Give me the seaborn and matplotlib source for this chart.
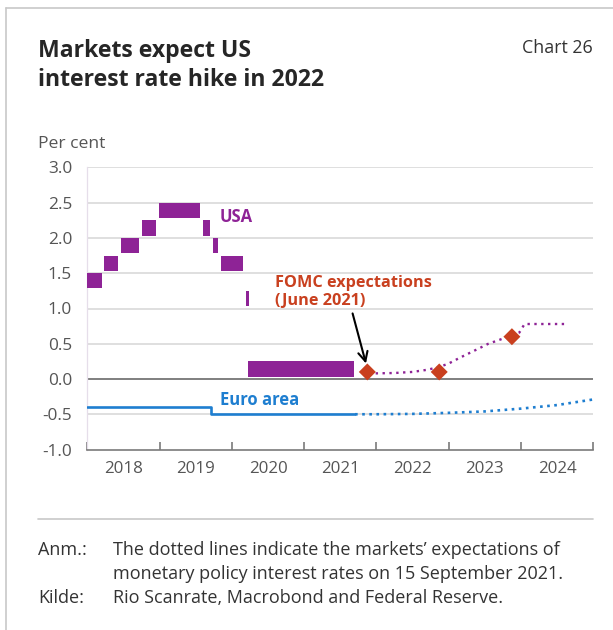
import matplotlib
matplotlib.use("Agg")
import matplotlib.pyplot as plt
from matplotlib.lines import Line2D
import seaborn as sns
import pandas as pd
import numpy as np

# ---------------------------------------------------------------- data
# Federal funds target range: start date of each range, lower / upper bound (per cent)
usa_range_start = ["2017-12-14", "2018-03-22", "2018-06-14", "2018-09-27", "2018-12-20",
                   "2019-08-01", "2019-09-19", "2019-10-31", "2020-03-04", "2020-03-16"]
usa_range_last = "2021-09-15"
usa_lower = [1.25, 1.50, 1.75, 2.00, 2.25, 2.00, 1.75, 1.50, 1.00, 0.00]
usa_upper = [1.50, 1.75, 2.00, 2.25, 2.50, 2.25, 2.00, 1.75, 1.25, 0.25]

# Market-implied US policy rate path (15 September 2021)
usa_exp_dates = ["2021-10-20", "2022-01-01", "2022-04-01", "2022-07-01", "2022-09-13",
                 "2022-11-14", "2023-01-01", "2023-02-25", "2023-06-07", "2023-07-20",
                 "2023-09-09", "2023-12-24", "2024-01-08", "2024-01-19", "2024-08-25"]
usa_exp = [0.08, 0.08, 0.085, 0.10, 0.13, 0.17, 0.22, 0.30, 0.44, 0.50,
           0.55, 0.66, 0.73, 0.78, 0.78]

# FOMC median projections, June 2021
fomc_dates = ["2021-11-16", "2022-11-14", "2023-11-16"]
fomc_rate = [0.1, 0.1, 0.6]

# ECB deposit rate
euro_dates = ["2018-01-01", "2019-09-18", "2021-09-15"]
euro_rate = [-0.40, -0.50, -0.50]

# Market-implied euro area policy rate path
euro_exp_dates = ["2021-09-15", "2022-01-01", "2022-07-01", "2023-01-01", "2023-07-01",
                  "2024-01-01", "2024-07-01", "2025-01-01"]
euro_exp = [-0.50, -0.50, -0.495, -0.48, -0.46, -0.42, -0.37, -0.29]

years = [2018, 2019, 2020, 2021, 2022, 2023, 2024]
y_ticks = [-1.0, -0.5, 0.0, 0.5, 1.0, 1.5, 2.0, 2.5, 3.0]

title_lines = ["Markets expect US", "interest rate hike in 2022"]
chart_no = "Chart 26"
unit_label = "Per cent"
note_label = "Anm.:"
note_lines = ["The dotted lines indicate the markets\u2019 expectations of",
              "monetary policy interest rates on 15 September 2021."]
source_label = "Kilde:"
source_text = "Rio Scanrate, Macrobond and Federal Reserve."


def to_year(dates):
    ts = pd.to_datetime(pd.Series(dates))
    days = np.where(ts.dt.is_leap_year, 366.0, 365.0)
    return (ts.dt.year + (ts.dt.dayofyear - 1) / days).to_numpy()


# ---------------------------------------------------------------- style
PURPLE = "#8E2396"
RED = "#C9401F"
BLUE = "#1E7ED0"
TEXT = "#333333"
TICK = "#555555"

sns.set_theme(style="white")
plt.rcParams["font.family"] = ["Open Sans", "DejaVu Sans"]
plt.rcParams["axes.unicode_minus"] = False

W, H = 613, 630
fig = plt.figure(figsize=(W / 100, H / 100), dpi=100)


def fx(x):
    return x / W


def fy(y):
    return 1 - y / H


ax = fig.add_axes([fx(87.3), fy(449.5), fx(593.3) - fx(87.3), fy(167.5) - fy(449.5)])
ax.set_xlim(2018.0, 2025.0)
ax.set_ylim(-1.0, 3.0)

# horizontal grid and zero line
for v in y_ticks[1:]:
    ax.axhline(v, color="#D6D6D6", lw=1.1, zorder=0)
ax.axhline(0.0, color="#707070", lw=1.2, zorder=1)

# US target range as floating blocks with small white gaps
starts = to_year(usa_range_start)
ends = np.append(starts[1:], to_year([usa_range_last]))
lower = np.array(usa_lower)
upper = np.array(usa_upper)
hgap, vgap, min_w = 0.018, 0.035, 0.045
left = starts + hgap
width = np.maximum(ends - starts - 2 * hgap, min_w)
ax.bar(left, upper - lower - vgap, width=width, bottom=lower + vgap, align="edge",
       color=PURPLE, linewidth=0, zorder=3)

# euro area deposit rate and market path
euro_df = pd.DataFrame({"year": to_year(euro_dates), "rate": euro_rate})
ax.step(euro_df["year"], euro_df["rate"], where="post", color=BLUE, lw=1.9, zorder=3)
euro_exp_df = pd.DataFrame({"year": to_year(euro_exp_dates), "rate": euro_exp})
sns.lineplot(data=euro_exp_df, x="year", y="rate", ax=ax, color=BLUE, lw=1.9,
             linestyle=(0, (1, 1.7)), zorder=3)

# US market path and FOMC projections
usa_exp_df = pd.DataFrame({"year": to_year(usa_exp_dates), "rate": usa_exp})
sns.lineplot(data=usa_exp_df, x="year", y="rate", ax=ax, color=PURPLE, lw=1.7,
             linestyle=(0, (1, 1.9)), zorder=3)
fomc_df = pd.DataFrame({"year": to_year(fomc_dates), "rate": fomc_rate})
sns.scatterplot(data=fomc_df, x="year", y="rate", ax=ax, marker="D", s=75,
                color=RED, edgecolor="none", zorder=5)

# series labels
LBL = 12.0
ax.text(2019.83, 2.23, "USA", color=PURPLE, fontsize=LBL, fontweight="bold", va="baseline")
ax.text(2019.83, -0.37, "Euro area", color=BLUE, fontsize=LBL, fontweight="bold", va="baseline")
ax.text(2020.60, 1.305, "FOMC expectations", color=RED, fontsize=11.7, fontweight="bold",
        va="baseline")
ax.text(2020.60, 1.05, "(June 2021)", color=RED, fontsize=11.7, fontweight="bold",
        va="baseline")
ax.annotate("", xy=(2021.855, 0.22), xytext=(2021.67, 0.93),
            arrowprops=dict(arrowstyle="->", color="black", lw=1.5, mutation_scale=17,
                            shrinkA=0, shrinkB=0), zorder=6)

# axes styling
for side in ["top", "right"]:
    ax.spines[side].set_visible(False)
ax.spines["left"].set_color("#E6DEEA")
ax.spines["left"].set_linewidth(0.9)
ax.spines["bottom"].set_color("#7A7A7A")
ax.spines["bottom"].set_linewidth(1.2)
ax.spines["bottom"].set_zorder(4)

ax.set_yticks(y_ticks)
ax.set_yticklabels([f"{v:.1f}" for v in y_ticks])
ax.tick_params(axis="y", length=0, pad=11, labelsize=12.4, labelcolor=TICK)

ax.set_xticks(range(2018, 2026))
ax.set_xticklabels([])
ax.set_xticks([y + 0.5 for y in years], minor=True)
ax.set_xticklabels([str(y) for y in years], minor=True)
ax.tick_params(axis="x", which="major", direction="in", length=6, width=1.2, color="#7A7A7A",
               bottom=True)
ax.tick_params(axis="x", which="minor", length=0, pad=8, labelsize=12.2, labelcolor=TICK,
               bottom=True)
ax.set_xlabel("")
ax.set_ylabel("")
legend = ax.get_legend()
if legend is not None:
    legend.remove()

# ---------------------------------------------------------------- surrounding text
TS = 16.6
fig.text(fx(38), fy(57), title_lines[0], fontsize=TS, fontweight="bold", color="#262626",
         va="baseline", ha="left")
fig.text(fx(38), fy(86), title_lines[1], fontsize=TS, fontweight="bold", color="#262626",
         va="baseline", ha="left")
fig.text(fx(593), fy(53), chart_no, fontsize=12.8, color=TEXT, va="baseline", ha="right")
fig.text(fx(38), fy(148), unit_label, fontsize=12.6, color=TICK, va="baseline", ha="left")

NS = 13.0
fig.text(fx(38), fy(555), note_label, fontsize=NS, color=TEXT, va="baseline")
fig.text(fx(113), fy(555), note_lines[0], fontsize=NS, color=TEXT, va="baseline")
fig.text(fx(113), fy(579), note_lines[1], fontsize=NS, color=TEXT, va="baseline")
fig.text(fx(38), fy(603), source_label, fontsize=NS, color=TEXT, va="baseline")
fig.text(fx(113), fy(603), source_text, fontsize=NS, color=TEXT, va="baseline")

# frame and separator
frame = "#C8C8C8"
fig.add_artist(Line2D([fx(6), fx(613)], [fy(8), fy(8)], color=frame, lw=1.2))
fig.add_artist(Line2D([fx(6), fx(6)], [fy(8), fy(630)], color=frame, lw=1.2))
fig.add_artist(Line2D([fx(38), fx(593)], [fy(519), fy(519)], color=frame, lw=1.2))

fig.savefig("out.png", dpi=100, facecolor="white")
